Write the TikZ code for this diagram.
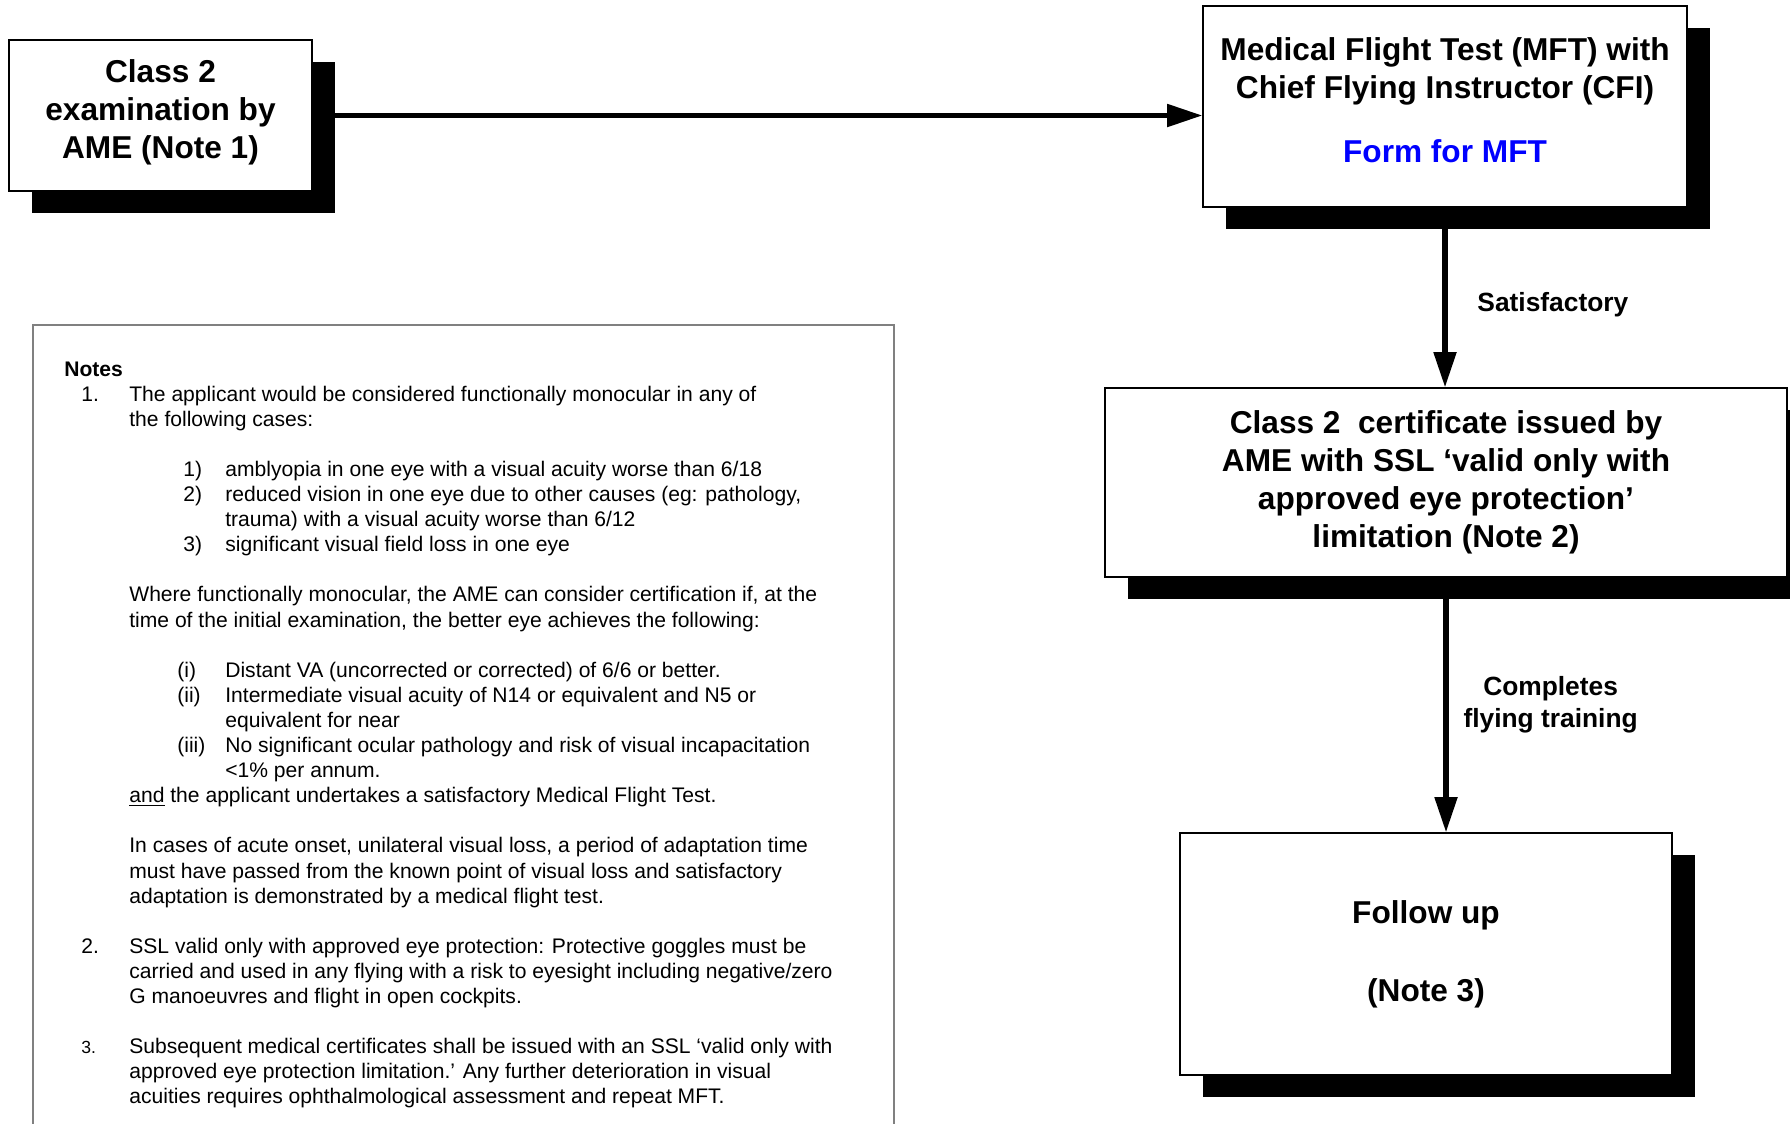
\documentclass[tikz,border=0pt]{standalone}
\usepackage{fontspec}
\setmainfont{Liberation Sans}
\usetikzlibrary{arrows.meta,shadows}
\newcommand{\notelines}[1]{\begin{tabular}[t]{@{}l@{}}#1\end{tabular}}

\begin{document}
\begin{tikzpicture}[
   x=0.02cm, y=-0.02cm,
   flowbox/.style={
       draw, line width=0.8pt, fill=white, align=center,
       font=\fontsize{18}{21.6}\selectfont\bfseries,
       drop shadow={shadow xshift=0.46cm, shadow yshift=-0.44cm, fill=black, opacity=1}
     },
   flow/.style={->, >={Triangle[length=20pt,width=12.5pt]}, line width=2.9pt},
   flowlabel/.style={anchor=west, inner sep=0pt, align=center,
       font=\fontsize{15}{18}\selectfont\bfseries},
   note/.style={anchor=base west, inner sep=0pt,
       font=\fontsize{12}{14.3}\selectfont}
  ]
  \useasboundingbox (0,0) rectangle (1790,1123);
  % the chart
  \node [flowbox, minimum width=6.06cm, minimum height=3.02cm, text depth=7.5pt] (exam) at (160.5,115.5)
     {Class 2\\examination by\\AME (Note 1)};
  \node [flowbox, minimum width=9.68cm, minimum height=4.02cm, text depth=7pt] (mft) at (1445,106.5)
     {Medical Flight Test (MFT) with\\Chief Flying Instructor (CFI)\\[15pt]\textcolor{blue}{Form for MFT}};
  \node [flowbox, minimum width=13.64cm, minimum height=3.78cm] (cert) at (1446,482.5)
     {Class 2~ certificate issued by\\AME with SSL `valid only with\\approved eye protection'\\limitation (Note 2)};
  \node [flowbox, minimum width=9.84cm, minimum height=4.84cm] (followup) at (1426,954)
     {Follow up\\[22.8pt](Note 3)};
  \draw [flow] (exam.east) -- (exam.east -| mft.west);
  \draw [flow] (mft.south) -- node [flowlabel, pos=0.54, xshift=17pt] (ok) {Satisfactory} (mft.south |- cert.north);
  \draw [flow] (cert.south) -- node [flowlabel, xshift=8.5pt] (training) {Completes\\flying training} (cert.south |- followup.north);
  % the notes
  \draw [black!50, line width=0.8pt] (33,325) rectangle (894,1140);
  \node [note, font=\fontsize{12}{14.3}\selectfont\bfseries] (notes) at (64,376) {Notes};
  \node [note] (num1) at (81,401.1) {1.};
  \node [note] (note1) at (129,401.1)
     {\notelines{The applicant would be considered functionally monocular in any of\\the following cases:}};
  \node [note] (cases) at (183,476.4)
     {\begin{tabular}[t]{@{}p{0.84cm}@{}l@{}}
      1) & amblyopia in one eye with a visual acuity worse than 6/18\\
      2) & reduced vision in one eye due to other causes (eg: pathology,\\
         & trauma) with a visual acuity worse than 6/12\\
      3) & significant visual field loss in one eye
      \end{tabular}};
  \node [note] (where) at (129,601.9)
     {\notelines{Where functionally monocular, the AME can consider certification if, at the\\time of the initial examination, the better eye achieves the following:}};
  \node [note] (criteria) at (177,677.2)
     {\begin{tabular}[t]{@{}p{0.96cm}@{}l@{}}
      (i) & Distant VA (uncorrected or corrected) of 6/6 or better.\\
      (ii) & Intermediate visual acuity of N14 or equivalent and N5 or\\
           & equivalent for near\\
      (iii) & No significant ocular pathology and risk of visual incapacitation\\
            & <1\% per annum.
      \end{tabular}};
  \node [note] (note1end) at (129,802.7)
     {\notelines{\underline{and} the applicant undertakes a satisfactory Medical Flight Test.\\ \\
      In cases of acute onset, unilateral visual loss, a period of adaptation time\\
      must have passed from the known point of visual loss and satisfactory\\
      adaptation is demonstrated by a medical flight test.}};
  \node [note] (num2) at (81,953.3) {2.};
  \node [note] (note2) at (129,953.3)
     {\notelines{SSL valid only with approved eye protection: Protective goggles must be\\
      carried and used in any flying with a risk to eyesight including negative/zero\\
      G manoeuvres and flight in open cockpits.}};
  \node [note, font=\fontsize{10}{14.3}\selectfont] (num3) at (81,1053.7) {3.};
  \node [note] (note3) at (129,1053.7)
     {\notelines{Subsequent medical certificates shall be issued with an SSL `valid only with\\
      approved eye protection limitation.' Any further deterioration in visual\\
      acuities requires ophthalmological assessment and repeat MFT.}};
\end{tikzpicture}
\end{document}
